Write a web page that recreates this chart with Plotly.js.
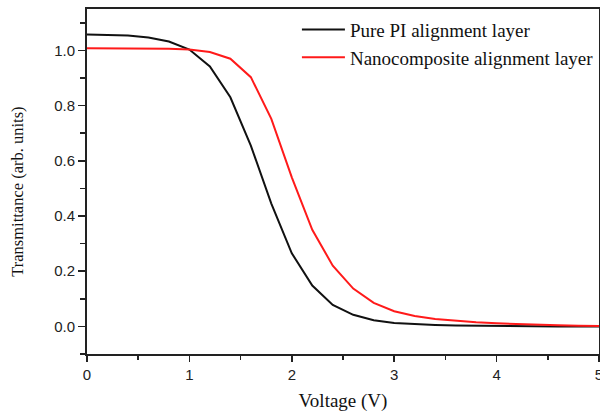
<!DOCTYPE html>
<html>
<head>
<meta charset="utf-8">
<script src="https://cdn.plot.ly/plotly-3.0.1.min.js"></script>
<style>html,body{margin:0;padding:0;background:#fff;}#chart{width:600px;height:412px;}</style>
</head>
<body>
<div id="chart"></div>
<script>
const voltage = [0,0.2,0.4,0.6,0.8,1.0,1.2,1.4,1.6,1.8,2.0,2.2,2.4,2.6,2.8,3.0,3.2,3.4,3.6,3.8,4.0,4.2,4.4,4.6,4.8,5.0];
const purePI = [1.058,1.057,1.054,1.047,1.032,1.003,0.942,0.830,0.655,0.445,0.265,0.148,0.078,0.042,0.022,0.012,0.008,0.005,0.003,0.002,0.001,0.001,0.0005,0,0,0];
const nanocomposite = [1.008,1.008,1.008,1.007,1.006,1.003,0.994,0.970,0.903,0.752,0.540,0.350,0.220,0.137,0.085,0.055,0.038,0.027,0.020,0.015,0.011,0.008,0.006,0.004,0.002,0.001];
const seriesNames = ["Pure PI alignment layer","Nanocomposite alignment layer"];
const xTitle = 'Voltage (V)';
const yTitle = 'Transmittance (arb. units)';

const serif = 'Liberation Serif, Times New Roman, serif';
const traces = [
  {x: voltage, y: purePI, name: seriesNames[0], mode: 'lines', line: {color: '#111111', width: 2}},
  {x: voltage, y: nanocomposite, name: seriesNames[1], mode: 'lines', line: {color: '#ff1a1a', width: 2}}
];

const axisCommon = {
  showline: true, linecolor: '#222', linewidth: 2, mirror: true,
  showgrid: false, zeroline: false,
  ticks: 'outside', ticklen: 7, tickwidth: 1.5, tickcolor: '#222',
  ticklabeloverflow: 'allow',
  tickfont: {family: 'Arial, Liberation Sans, sans-serif', size: 15, color: '#222'}
};

const layout = {
  width: 600, height: 412,
  margin: {l: 87, r: 1, t: 9, b: 58},
  paper_bgcolor: '#fff', plot_bgcolor: '#fff',
  showlegend: true,
  legend: {
    x: 0.41, y: 0.995, xanchor: 'left', yanchor: 'top',
    bgcolor: 'rgba(0,0,0,0)', borderwidth: 0,
    font: {family: serif, size: 19, color: '#111'},
    itemwidth: 43, tracegroupgap: 0
  },
  xaxis: Object.assign({}, axisCommon, {
    range: [0, 5], dtick: 1, tick0: 0, ticklen: 6,
    minor: {dtick: 0.5, ticks: 'outside', ticklen: 4, tickwidth: 1.5, tickcolor: '#222'},
    title: {text: xTitle, font: {family: serif, size: 19, color: '#111'}, standoff: 12}
  }),
  yaxis: Object.assign({}, axisCommon, {
    range: [-0.1, 1.15], dtick: 0.2, tick0: 0, tickformat: '.1f',
    minor: {dtick: 0.1, ticks: 'outside', ticklen: 5, tickwidth: 1.5, tickcolor: '#222'}
  }),
  annotations: [{
    text: yTitle, textangle: -90, showarrow: false,
    xref: 'paper', yref: 'paper', x: -0.135, y: 0.47, xanchor: 'center', yanchor: 'middle',
    font: {family: serif, size: 16.5, color: '#111'}
  }]
};

Plotly.newPlot('chart', traces, layout, {displayModeBar: false, staticPlot: true});
</script>
</body>
</html>
